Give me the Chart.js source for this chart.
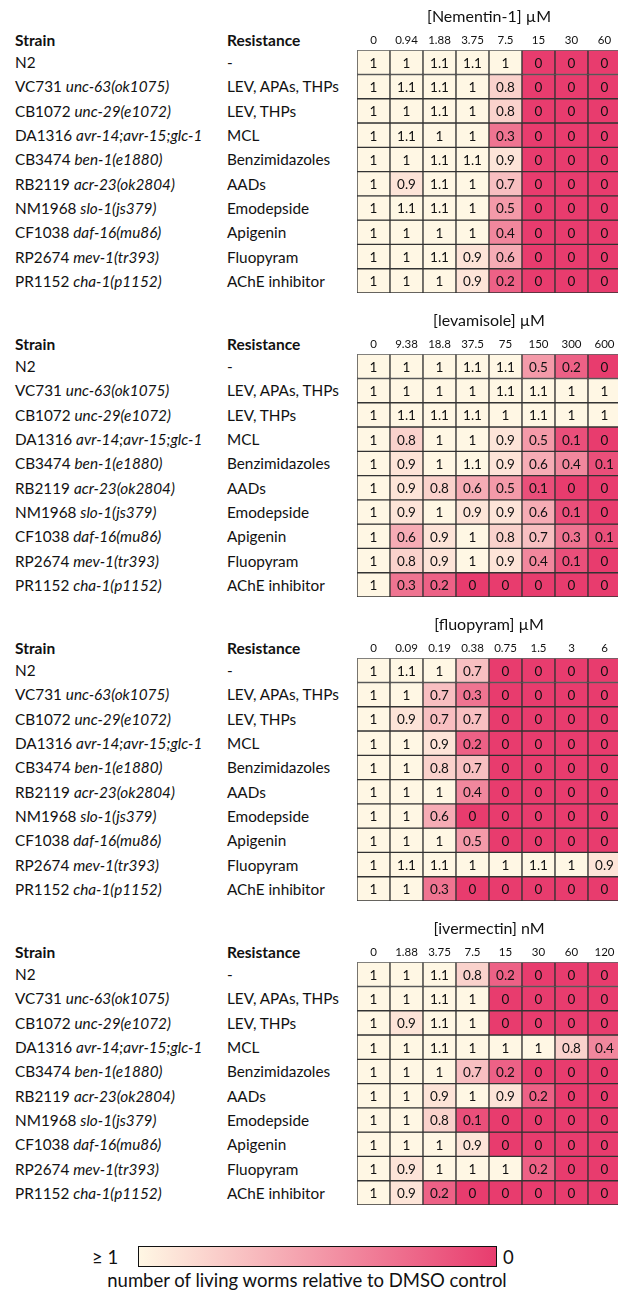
<!DOCTYPE html>
<html>
<head>
<meta charset="utf-8">
<script src="https://cdn.jsdelivr.net/npm/chart.js@4.4.1/dist/chart.umd.min.js"></script>
<style>
  body { margin: 0; width: 618px; height: 1290px; overflow: hidden; position: relative; background: #fff; font-family: Lato, sans-serif; color: #111; }
  .panel { position: absolute; left: 0; width: 618px; height: 304px; }
  .txt { position: absolute; font-size: 15.3px; line-height: 20px; white-space: nowrap; }
  .hd { font-weight: bold; font-size: 15.5px; }
  .big { font-size: 18.5px; line-height: 22px; }
  .cv { position: absolute; left: 340px; top: 0; }
  #bar { position: absolute; left: 138px; top: 1246px; width: 357px; height: 19px; border: 1.5px solid #111;
         background: linear-gradient(to right, #fff7e4, #e83c6e); }
</style>
</head>
<body>
<div id="root"></div>
<div id="bar"></div>
<div class="txt big" style="left:92px;top:1246px;">≥ 1</div>
<div class="txt big" style="left:503px;top:1246px;">0</div>
<div class="txt big" style="left:0;width:614px;text-align:center;top:1269px;">number of living worms relative to DMSO control</div>
<script>
// strain = [plain part, italic part]
const strains = [
  ["N2", ""],
  ["VC731 ", "unc-63(ok1075)"],
  ["CB1072 ", "unc-29(e1072)"],
  ["DA1316 ", "avr-14;avr-15;glc-1"],
  ["CB3474 ", "ben-1(e1880)"],
  ["RB2119 ", "acr-23(ok2804)"],
  ["NM1968 ", "slo-1(js379)"],
  ["CF1038 ", "daf-16(mu86)"],
  ["RP2674 ", "mev-1(tr393)"],
  ["PR1152 ", "cha-1(p1152)"]
];
const resistance = ["-", "LEV, APAs, THPs", "LEV, THPs", "MCL", "Benzimidazoles", "AADs",
  "Emodepside", "Apigenin", "Fluopyram", "AChE inhibitor"];

const drugTitles = ["[Nementin-1] µM", "[levamisole] µM", "[fluopyram] µM", "[ivermectin] nM"];

const nementinDoses = ["0", "0.94", "1.88", "3.75", "7.5", "15", "30", "60"];
const levamisoleDoses = ["0", "9.38", "18.8", "37.5", "75", "150", "300", "600"];
const fluopyramDoses = ["0", "0.09", "0.19", "0.38", "0.75", "1.5", "3", "6"];
const ivermectinDoses = ["0", "1.88", "3.75", "7.5", "15", "30", "60", "120"];

const nementinValues = [
  [1, 1, 1.1, 1.1, 1, 0, 0, 0],
  [1, 1.1, 1.1, 1, 0.8, 0, 0, 0],
  [1, 1, 1.1, 1, 0.8, 0, 0, 0],
  [1, 1.1, 1, 1, 0.3, 0, 0, 0],
  [1, 1, 1.1, 1.1, 0.9, 0, 0, 0],
  [1, 0.9, 1.1, 1, 0.7, 0, 0, 0],
  [1, 1.1, 1.1, 1, 0.5, 0, 0, 0],
  [1, 1, 1, 1, 0.4, 0, 0, 0],
  [1, 1, 1.1, 0.9, 0.6, 0, 0, 0],
  [1, 1, 1, 0.9, 0.2, 0, 0, 0]
];
const levamisoleValues = [
  [1, 1, 1, 1.1, 1.1, 0.5, 0.2, 0],
  [1, 1, 1, 1, 1.1, 1.1, 1, 1],
  [1, 1.1, 1.1, 1.1, 1, 1.1, 1, 1],
  [1, 0.8, 1, 1, 0.9, 0.5, 0.1, 0],
  [1, 0.9, 1, 1.1, 0.9, 0.6, 0.4, 0.1],
  [1, 0.9, 0.8, 0.6, 0.5, 0.1, 0, 0],
  [1, 0.9, 1, 0.9, 0.9, 0.6, 0.1, 0],
  [1, 0.6, 0.9, 1, 0.8, 0.7, 0.3, 0.1],
  [1, 0.8, 0.9, 1, 0.9, 0.4, 0.1, 0],
  [1, 0.3, 0.2, 0, 0, 0, 0, 0]
];
const fluopyramValues = [
  [1, 1.1, 1, 0.7, 0, 0, 0, 0],
  [1, 1, 0.7, 0.3, 0, 0, 0, 0],
  [1, 0.9, 0.7, 0.7, 0, 0, 0, 0],
  [1, 1, 0.9, 0.2, 0, 0, 0, 0],
  [1, 1, 0.8, 0.7, 0, 0, 0, 0],
  [1, 1, 1, 0.4, 0, 0, 0, 0],
  [1, 1, 0.6, 0, 0, 0, 0, 0],
  [1, 1, 1, 0.5, 0, 0, 0, 0],
  [1, 1.1, 1.1, 1, 1, 1.1, 1, 0.9],
  [1, 1, 0.3, 0, 0, 0, 0, 0]
];
const ivermectinValues = [
  [1, 1, 1.1, 0.8, 0.2, 0, 0, 0],
  [1, 1, 1.1, 1, 0, 0, 0, 0],
  [1, 0.9, 1.1, 1, 0, 0, 0, 0],
  [1, 1, 1.1, 1, 1, 1, 0.8, 0.4],
  [1, 1, 1, 0.7, 0.2, 0, 0, 0],
  [1, 1, 0.9, 1, 0.9, 0.2, 0, 0],
  [1, 1, 0.8, 0.1, 0, 0, 0, 0],
  [1, 1, 1, 0.9, 0, 0, 0, 0],
  [1, 0.9, 1, 1, 1, 0.2, 0, 0],
  [1, 0.9, 0.2, 0, 0, 0, 0, 0]
];

const panels = [
  [nementinDoses, nementinValues],
  [levamisoleDoses, levamisoleValues],
  [fluopyramDoses, fluopyramValues],
  [ivermectinDoses, ivermectinValues]
];

const cream = [255, 247, 228];
const pink = [232, 60, 110];
function colorFor(v) {
  const t = 1 - Math.max(0, Math.min(1, v));
  const c = cream.map((a, k) => Math.round(a + (pink[k] - a) * t));
  return `rgb(${c[0]},${c[1]},${c[2]})`;
}

const cellLabels = {
  id: "cellLabels",
  afterDatasetsDraw(chart) {
    const ctx = chart.ctx;
    ctx.save();
    ctx.font = "13.5px Lato";
    ctx.textAlign = "center";
    ctx.textBaseline = "middle";
    ctx.fillStyle = "#111";
    chart.data.datasets.forEach((ds, i) => {
      chart.getDatasetMeta(i).data.forEach((bar, j) => {
        const p = bar.getCenterPoint();
        ctx.fillText(String(ds.rel[j]), p.x, p.y + 1);
      });
    });
    ctx.restore();
  }
};

const ROW = 24.3, GRID_TOP = 50, PANEL_H = 304;
const root = document.getElementById("root");

panels.forEach(([doses, values], p) => {
  const panel = document.createElement("div");
  panel.className = "panel";
  panel.style.top = (p * PANEL_H) + "px";

  let html = `<div class="txt hd" style="left:15px;top:30px;">Strain</div>` +
             `<div class="txt hd" style="left:227px;top:30px;">Resistance</div>`;
  strains.forEach((s, i) => {
    const y = GRID_TOP + ROW * (i + 0.5) - 10;
    html += `<div class="txt" style="left:15px;top:${y}px;">${s[0]}<i>${s[1]}</i></div>`;
    html += `<div class="txt" style="left:227px;top:${y}px;">${resistance[i]}</div>`;
  });
  panel.innerHTML = html;

  const canvas = document.createElement("canvas");
  canvas.className = "cv";
  canvas.width = 290;
  canvas.height = 297;
  panel.appendChild(canvas);
  root.appendChild(panel);

  new Chart(canvas, {
    type: "bar",
    data: {
      labels: doses,
      datasets: values.map((row, i) => ({
        label: strains[i].join(""),
        data: row.map(() => 1),   // each cell is one row tall
        rel: row,
        backgroundColor: row.map(colorFor),
        borderColor: "#333",
        borderWidth: 1,
        borderSkipped: false,
        categoryPercentage: 1,
        barPercentage: 1
      }))
    },
    options: {
      responsive: false,
      animation: false,
      layout: { padding: { left: 17, right: 9, top: 0, bottom: 4 } },
      plugins: {
        legend: { display: false },
        tooltip: { enabled: false },
        title: {
          display: true,
          text: drugTitles[p],
          color: "#111",
          font: { family: "Lato", size: 16, weight: "normal" },
          padding: { top: 7, bottom: 2 }
        }
      },
      scales: {
        x: {
          position: "top",
          stacked: true,
          grid: { display: false, drawTicks: false },
          border: { display: false },
          ticks: { color: "#111", font: { family: "Lato", size: 11.5 }, padding: 3, maxRotation: 0, autoSkip: false },
          afterFit: (s) => { s.height = 22; }
        },
        y: { stacked: true, reverse: true, min: 0, max: 10, display: false }
      }
    },
    plugins: [cellLabels]
  });
});
</script>
</body>
</html>
